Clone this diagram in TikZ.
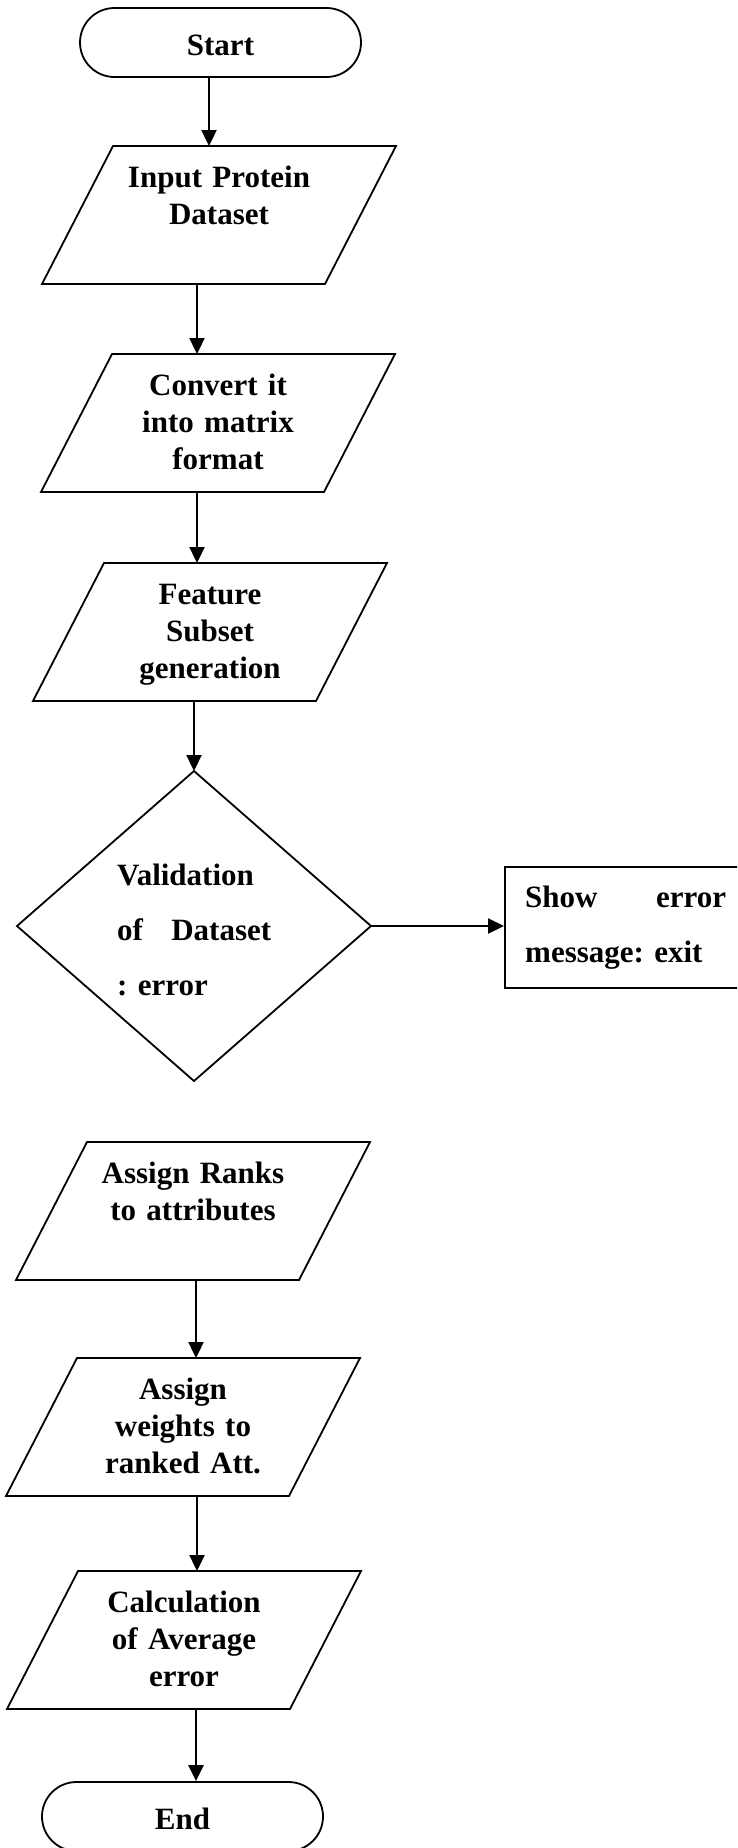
\documentclass[tikz,border=0pt]{standalone}
\usepackage{fontspec}
\setmainfont{Liberation Serif}
\usetikzlibrary{arrows.meta}
\frenchspacing
\newcommand\parashape[2]{%
  \draw[shapeline] (#1-106,#2) -- (#1+177,#2) -- (#1+106,#2+138) -- (#1-177,#2+138) -- cycle;}
\begin{document}
\begin{tikzpicture}[x=1pt,y=-1pt,
  shapeline/.style={line width=1.8pt, line join=miter},
  flow/.style={line width=2.3pt,-{Triangle[length=16pt,width=15pt]}},
  txt/.style={font=\fontsize{31}{37}\selectfont\bfseries\frenchspacing, inner sep=0pt, text width=300pt, align=center, anchor=base},
  jtxt/.style={font=\fontsize{31}{55}\selectfont\bfseries\frenchspacing, inner sep=0pt, align=left, anchor=base west},
  terminal/.style={draw, line width=1.8pt, rounded corners=34.5pt, minimum width=281pt, minimum height=69pt,
    inner sep=0pt, text height=25pt, text depth=0pt, font=\fontsize{31}{37}\selectfont\bfseries}]
\clip (0,0) rectangle (737,1848);
\fill[white] (0,0) rectangle (737,1848);

% terminals
\node[terminal] (start) at (220.5,42.5) {Start};
\node[terminal] (end) at (182.5,1816.5) {End};

% parallelograms
\parashape{219}{146}
\parashape{218}{354}
\parashape{210}{563}
\parashape{193}{1142}
\parashape{183}{1358}
\parashape{184}{1571}

\node[txt] (tin) at (219,187) {Input Protein\\Dataset};
\node[txt] (tcv) at (218,395) {Convert it\\into matrix\\format};
\node[txt] (tfs) at (210,604) {Feature\\Subset\\generation};
\node[txt] (trk) at (193,1183) {Assign Ranks\\to attributes};
\node[txt] (twt) at (183,1399) {Assign\\weights to\\ranked Att.};
\node[txt] (tca) at (184,1612) {Calculation\\of Average\\error};

% decision
\coordinate (dmn) at (194,771);
\coordinate (dme) at (371,926);
\coordinate (dms) at (194,1081);
\coordinate (dmw) at (17,926);
\draw[shapeline] (dmn) -- (dme) -- (dms) -- (dmw) -- cycle;
\node[jtxt, text width=154pt] (tdm) at (117,885) {Validation\\\makebox[154pt][s]{of\hfill Dataset}\\: error};

% error box
\node[draw, line width=1.8pt, anchor=north west, minimum width=260pt, minimum height=121pt, inner sep=0pt] (box) at (504,866) {};
\node[jtxt, text width=201pt] (tbox) at (525,907) {\makebox[201pt][s]{Show\hfill error}\\message: exit};

% connector end points
\coordinate (inn) at (209,146);
\coordinate (ins) at (197,284);
\coordinate (cvn) at (197,354);
\coordinate (cvs) at (197,492);
\coordinate (fsn) at (197,563);
\coordinate (fss) at (194,701);
\coordinate (rks) at (196,1280);
\coordinate (wtn) at (196,1358);
\coordinate (wts) at (197,1497);
\coordinate (can) at (197,1571);
\coordinate (cas) at (196,1709);

\draw[flow] (start.south -| inn) -- (inn);
\draw[flow] (ins) -- (cvn);
\draw[flow] (cvs) -- (fsn);
\draw[flow] (fss) -- (dmn);
\draw[flow] (dme) -- (box.west |- dme);
\draw[flow] (rks) -- (wtn);
\draw[flow] (wts) -- (can);
\draw[flow] (cas) -- (end.north -| cas);
\end{tikzpicture}
\end{document}
